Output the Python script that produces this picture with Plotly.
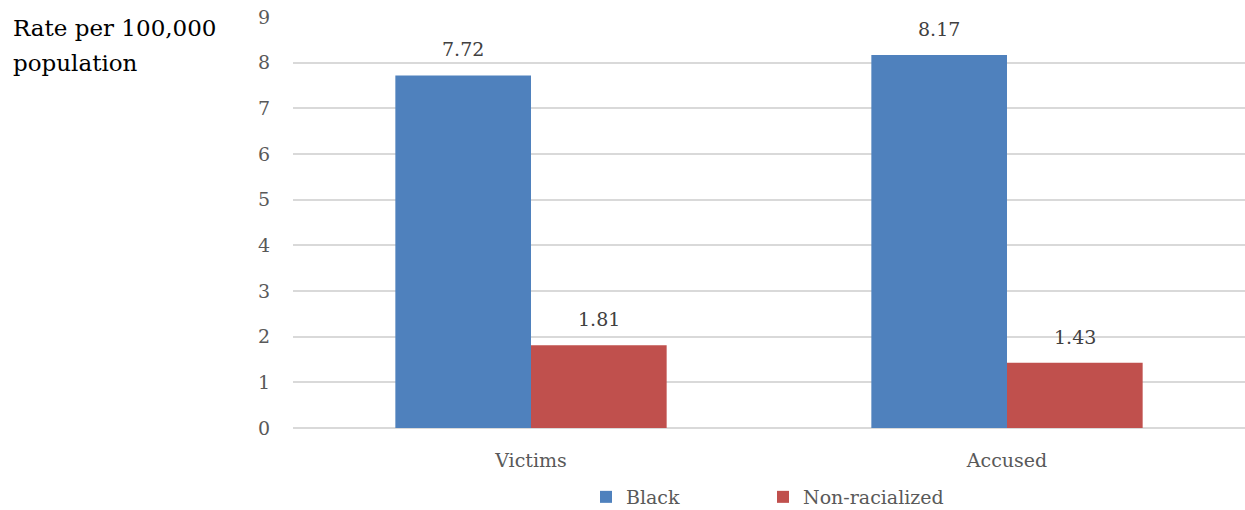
import plotly.graph_objects as go

categories = ["Victims", "Accused"]
black_vals = [7.72, 8.17]
nonrac_vals = [1.81, 1.43]
y_ticks = [0, 1, 2, 3, 4, 5, 6, 7, 8, 9]

FONT = "DejaVu Serif"
PLOT_W = 1245 - 293
PLOT_H = 510 - 17 - 82
BAR_PX = 136

fig = go.Figure()
fig.add_trace(go.Bar(
    x=categories, y=black_vals, name="Black", legend="legend",
    marker=dict(color="#4F81BD", line=dict(width=0)),
))
fig.add_trace(go.Bar(
    x=categories, y=nonrac_vals, name="Non-racialized", legend="legend2",
    marker=dict(color="#C0504D", line=dict(width=0)),
))

annotations = []
for vals, shift in ((black_vals, -BAR_PX / 2), (nonrac_vals, BAR_PX / 2)):
    for c, v in zip(categories, vals):
        annotations.append(dict(x=c, y=v, xref="x", yref="y", text=f"{v:.2f}",
                                showarrow=False, xshift=shift, yshift=13, yanchor="bottom",
                                font=dict(family=FONT, size=19, color="#404040")))

annotations.append(dict(text="Rate per 100,000", xref="paper", yref="paper",
                        x=-293 / PLOT_W, y=1 + 17 / PLOT_H, xanchor="left", yanchor="middle",
                        xshift=11, yshift=-28, showarrow=False,
                        font=dict(family=FONT, size=23, color="#000000")))
annotations.append(dict(text="population", xref="paper", yref="paper",
                        x=-293 / PLOT_W, y=1 + 17 / PLOT_H, xanchor="left", yanchor="middle",
                        xshift=11, yshift=-63, showarrow=False,
                        font=dict(family=FONT, size=23, color="#000000")))

legend_common = dict(orientation="h", xanchor="left", y=-69 / PLOT_H, yanchor="middle",
                     font=dict(family=FONT, size=19, color="#595959"), itemsizing="constant")

fig.update_layout(
    width=1245, height=510,
    margin=dict(l=293, r=0, t=17, b=82, autoexpand=False),
    paper_bgcolor="white", plot_bgcolor="white",
    barmode="group", bargap=0.43, bargroupgap=0,
    font=dict(family=FONT, color="#595959", size=19),
    showlegend=True,
    legend=dict(x=(586 - 293) / PLOT_W, **legend_common),
    legend2=dict(x=(763 - 293) / PLOT_W, **legend_common),
    xaxis=dict(showgrid=False, showline=False, zeroline=False, automargin=False,
               tickfont=dict(family=FONT, size=19, color="#595959"),
               ticks="outside", ticklen=15, tickcolor="rgba(0,0,0,0)"),
    yaxis=dict(range=[0, 9], tickvals=y_ticks, showgrid=True, gridcolor="#D9D9D9", gridwidth=1.5,
               zeroline=True, zerolinecolor="#D9D9D9", zerolinewidth=1.5, showline=False,
               automargin=False,
               tickfont=dict(family=FONT, size=19, color="#595959"),
               ticks="outside", ticklen=18, tickcolor="rgba(0,0,0,0)"),
    annotations=annotations,
)

fig.write_html("out.html")
